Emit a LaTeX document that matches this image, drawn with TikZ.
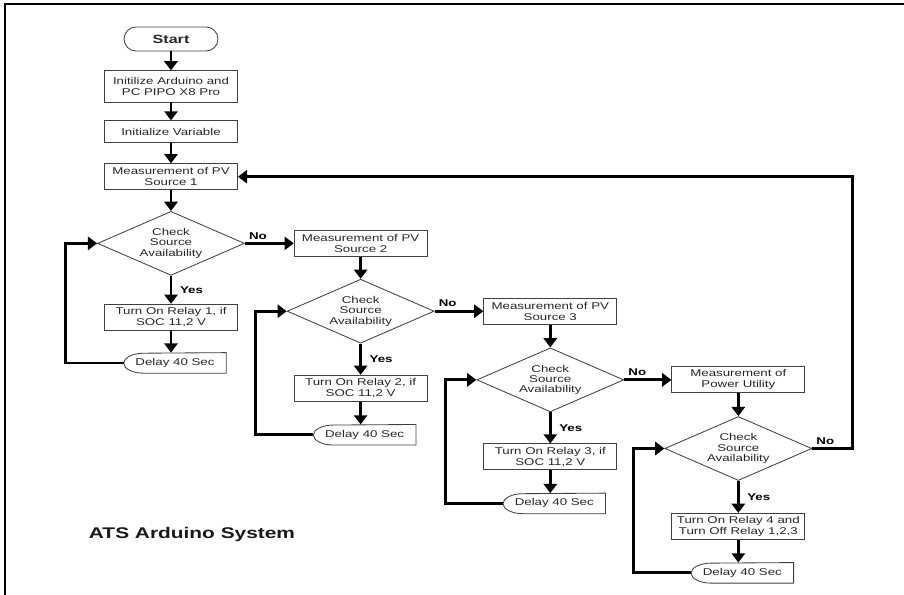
\documentclass[tikz,border=0pt]{standalone}
\usepackage{fontspec}
\newfontfamily\flowfont{Liberation Sans}[FakeStretch=1.35]
\usetikzlibrary{shapes.geometric, arrows.meta, positioning, calc}

\begin{document}
\begin{tikzpicture}[
    node distance=0.5cm,
    box/.style={rectangle, draw=black!75, line width=0.6pt, minimum width=3.325cm, minimum height=0.65cm, inner sep=1.5pt, align=center, text=black!85, font=\flowfont\fontsize{7}{7.8}\selectfont},
    decision/.style={diamond, draw=black!75, line width=0.6pt, shape aspect=2.3, minimum width=3.675cm, minimum height=1.6cm, inner sep=0pt, align=center, text=black!85, font=\flowfont\fontsize{7}{7.3}\selectfont},
    waitbox/.style={rectangle, minimum width=2.55cm, minimum height=0.5cm, inner sep=0pt, xshift=0.1cm, text=black!85, font=\flowfont\fontsize{7}{7.8}\selectfont},
    tag/.style={font=\flowfont\bfseries\fontsize{7}{8}\selectfont, inner sep=2pt},
    arrow/.style={-{Triangle[length=2.3mm, width=3.3mm]}, line width=2pt},
]
\useasboundingbox (0,0) rectangle (22.6,-14.875);

% frame
\draw[line width=1.2pt] (0.125,-14.875) -- (0.125,-0.1) -- (22.6,-0.1);

% main column
\node[box, rounded corners=3mm, minimum width=2.35cm, minimum height=0.6cm, font=\flowfont\bfseries\fontsize{8.5}{10}\selectfont] (start) at (4.275,-0.975) {Start};
\node[box, minimum height=0.78cm, below=0.475cm of start] (initard) {Initilize Arduino and\\PC PIPO X8 Pro};
\node[box, minimum height=0.55cm, below=0.45cm of initard] (initvar) {Initialize Variable};
\node[box, below=0.5cm of initvar] (pv1) {Measurement of PV\\Source 1};
\node[decision, below=0.52cm of pv1] (check1) {Check\\Source\\Availability};
\node[box, below=0.7cm of check1] (relay1) {Turn On Relay 1, if\\SOC 11,2 V};
\node[waitbox, below=0.55cm of relay1] (wait1) {Delay 40 Sec};

% second source
\node[box, right=1.22cm of check1] (pv2) {Measurement of PV\\Source 2};
\node[decision, below=0.55cm of pv2] (check2) {Check\\Source\\Availability};
\node[box, below=0.78cm of check2] (relay2) {Turn On Relay 2, if\\SOC 11,2 V};
\node[waitbox, below=0.57cm of relay2] (wait2) {Delay 40 Sec};

% third source
\node[box, right=1.22cm of check2] (pv3) {Measurement of PV\\Source 3};
\node[decision, below=0.57cm of pv3] (check3) {Check\\Source\\Availability};
\node[box, below=0.78cm of check3] (relay3) {Turn On Relay 3, if\\SOC 11,2 V};
\node[waitbox, below=0.57cm of relay3] (wait3) {Delay 40 Sec};

% utility
\node[box, right=1.18cm of check3] (util) {Measurement of\\Power Utility};
\node[decision, below=0.57cm of util] (check4) {Check\\Source\\Availability};
\node[box, below=0.8cm of check4] (relay4) {Turn On Relay 4 and\\Turn Off Relay 1,2,3};
\node[waitbox, below=0.57cm of relay4] (wait4) {Delay 40 Sec};

\node[anchor=west, text=black!90, font=\flowfont\bfseries\fontsize{11}{13}\selectfont] (title) at (2.1,-13.35) {ATS Arduino System};

% delay outlines
\foreach \w in {wait1,wait2,wait3,wait4}
  \draw[draw=black!75, line width=0.6pt] (\w.north east) -- (\w.south east) -- ([xshift=0.5cm]\w.south west) arc[start angle=270, end angle=90, x radius=0.5cm, y radius=0.25cm] -- cycle;

\draw[arrow] (start) -- (initard);
\draw[arrow] (initard) -- (initvar);
\draw[arrow] (initvar) -- (pv1);
\draw[arrow] (pv1) -- (check1);
\draw[arrow] (pv2) -- (check2);
\draw[arrow] (pv3) -- (check3);
\draw[arrow] (util) -- (check4);

\foreach \i in {1,2,3,4} {
  \draw[arrow] (check\i.south) -- node[tag, right, xshift=0.12cm] {Yes} (relay\i.north);
  \draw[arrow] (relay\i.south) -- (relay\i.south |- wait\i.north);
  \draw[arrow] (wait\i.west) -| ([xshift=-0.78cm]check\i.west) -- (check\i.west);
}

\draw[arrow] (check1.east) -- node[tag, above right, pos=0] {No} (pv2);
\draw[arrow] (check2.east) -- node[tag, above right, pos=0] {No} (pv3);
\draw[arrow] (check3.east) -- node[tag, above right, pos=0] {No} (util);
\draw[arrow] (check4.east) -- node[tag, above right, pos=0] {No} ++(1cm,0) |- (pv1.east);

\end{tikzpicture}
\end{document}
